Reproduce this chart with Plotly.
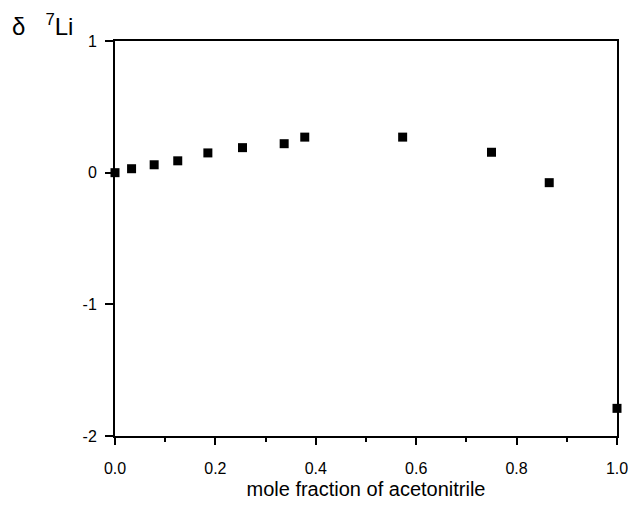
import plotly.graph_objects as go

# mole fraction of acetonitrile vs 7Li chemical shift
mole_fraction = [0.0, 0.033, 0.078, 0.125, 0.185, 0.254, 0.337, 0.378, 0.573, 0.750, 0.865, 1.0]
shift_li = [0.0, 0.03, 0.06, 0.09, 0.15, 0.19, 0.22, 0.27, 0.27, 0.155, -0.076, -1.79]

x_ticks = [0.0, 0.2, 0.4, 0.6, 0.8, 1.0]
x_ticklabels = ["0.0", "0.2", "0.4", "0.6", "0.8", "1.0"]
y_ticks = [-2, -1, 0, 1]
y_ticklabels = ["-2", "-1", "0", "1"]

fig = go.Figure()
fig.add_trace(go.Scatter(
    x=mole_fraction, y=shift_li, mode="markers",
    marker=dict(symbol="square", size=9, color="black"),
    cliponaxis=False, showlegend=False,
))

fig.update_layout(
    width=628, height=521,
    margin=dict(l=115, r=11, t=41, b=85, autoexpand=False),
    paper_bgcolor="white", plot_bgcolor="white",
    font=dict(family="Liberation Sans, Arial, sans-serif", color="black", size=16),
    xaxis=dict(
        range=[0, 1], tickvals=x_ticks, ticktext=x_ticklabels,
        showgrid=False, zeroline=False, automargin=False,
        showline=True, linecolor="black", linewidth=2, mirror=True,
        ticks="outside", ticklen=7, tickwidth=1.5, tickcolor="black",
        ticklabelstandoff=10, ticklabeloverflow="allow",
        minor=dict(dtick=0.1, ticks="outside", ticklen=4, tickwidth=1.5, tickcolor="black"),
        title=dict(text="mole fraction of acetonitrile", font=dict(size=20), standoff=6),
    ),
    yaxis=dict(
        range=[-2, 1], tickvals=y_ticks, ticktext=y_ticklabels,
        showgrid=False, zeroline=False, automargin=False,
        showline=True, linecolor="black", linewidth=2, mirror=True,
        ticks="outside", ticklen=8, tickwidth=1.5, tickcolor="black",
        ticklabelstandoff=5, ticklabeloverflow="allow",
    ),
)

# axis label for delta 7Li sits above the y axis, top-left
fig.add_annotation(
    text="δ   <sup>7</sup>Li", xref="paper", yref="paper",
    x=-0.209, y=1.04, xanchor="left", yanchor="middle",
    showarrow=False, font=dict(size=24),
)

fig.write_html("out.html", config={"displayModeBar": False},
               post_script="document.body.style.margin='0px';")
